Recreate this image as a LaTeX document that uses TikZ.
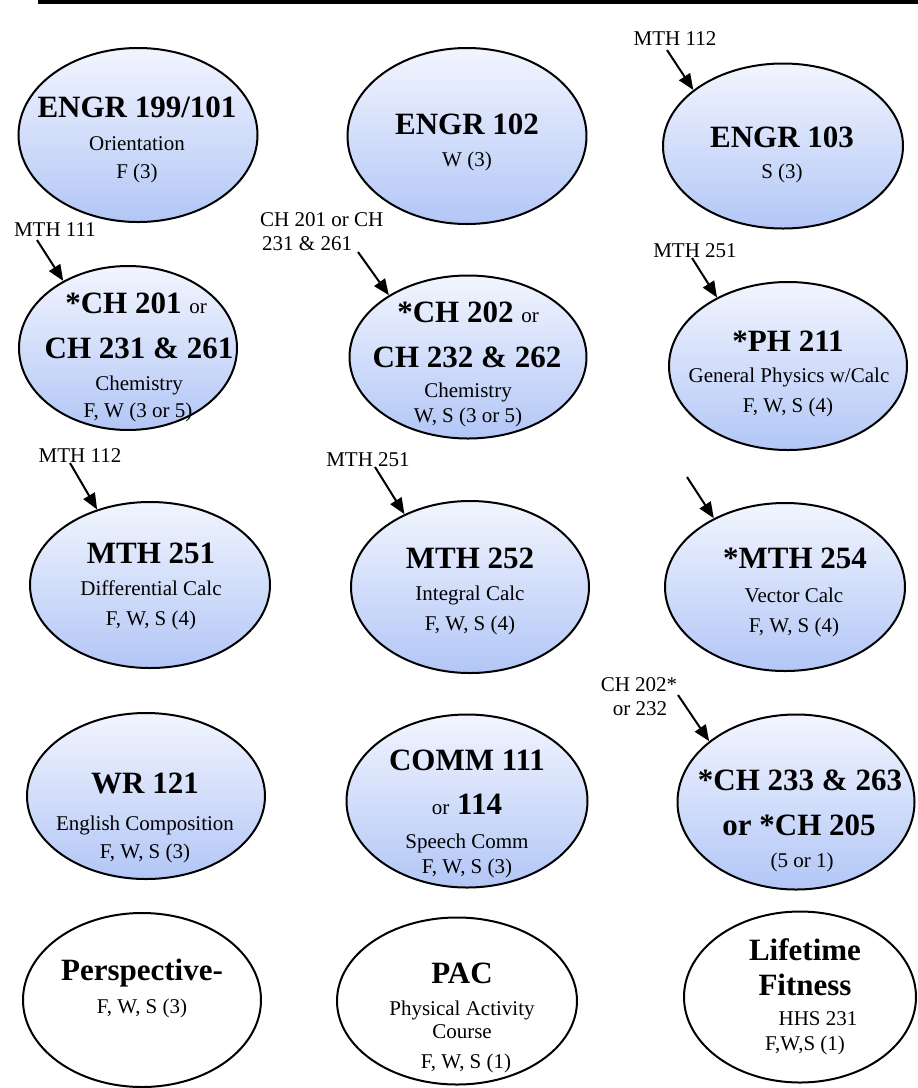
\documentclass[tikz,border=0pt]{standalone}
\usepackage{fontspec}
\setmainfont{Liberation Serif}
\usetikzlibrary{shapes.geometric,arrows.meta}
\definecolor{gtop}{HTML}{F2F5FE}
\definecolor{gbot}{HTML}{B2C6F6}
\tikzset{
 course/.style={ellipse, draw=black, line width=2pt, inner sep=0pt, top color=gtop, bottom color=gbot},
 plaincourse/.style={ellipse, draw=black, line width=2pt, inner sep=0pt, fill=white},
 prereq/.style={-{Triangle[length=16pt,width=13pt]}, line width=2pt, black},
 ttl/.style={anchor=base, inner sep=0pt, font=\fontsize{31}{31}\selectfont\bfseries},
 sub/.style={anchor=base, inner sep=0pt, font=\fontsize{21}{21}\selectfont},
 lbl/.style={anchor=base, inner sep=0pt, font=\fontsize{21}{21}\selectfont},
}
\newcommand{\smallor}{{\fontsize{21}{21}\selectfont\mdseries or}}
\begin{document}
\begin{tikzpicture}[x=1pt,y=-1pt]
\useasboundingbox (0,0) rectangle (918,1088);
\draw[line width=3.5pt] (38,1.75) -- (918,1.75);

% ellipses
\node[course, minimum width=239pt, minimum height=174pt] (e1) at (138,135) {};
\node[course, minimum width=239pt, minimum height=176pt] (e2) at (467,136) {};
\node[course, minimum width=240pt, minimum height=165pt] (e3) at (783,146) {};
\node[course, minimum width=218pt, minimum height=164pt] (c1) at (128,348) {};
\node[course, minimum width=237pt, minimum height=163pt] (c2) at (468,357) {};
\node[course, minimum width=238pt, minimum height=168pt] (c3) at (788,366) {};
\node[course, minimum width=240pt, minimum height=166pt] (m1) at (150,585) {};
\node[course, minimum width=238pt, minimum height=172pt] (m2) at (470,587) {};
\node[course, minimum width=240pt, minimum height=168pt] (m3) at (785,587) {};
\node[course, minimum width=238pt, minimum height=166pt] (w1) at (146,796) {};
\node[course, minimum width=241pt, minimum height=173pt] (w2) at (467,801) {};
\node[course, minimum width=237pt, minimum height=175pt] (w3) at (796,802) {};
\node[plaincourse, minimum width=238pt, minimum height=174pt] (p1) at (142,1000) {};
\node[plaincourse, minimum width=240pt, minimum height=167pt] (p2) at (457,1001) {};
\node[plaincourse, minimum width=232pt, minimum height=171pt] (p3) at (800,997) {};

% texts
\node[ttl] (e1t) at (137,117) {ENGR 199/101};
\node[sub] (e1a) at (137,150) {Orientation};
\node[sub] (e1b) at (137,178) {F (3)};
\node[ttl] (e2t) at (467,134) {ENGR 102};
\node[sub] (e2a) at (467,166) {W (3)};
\node[ttl] (e3t) at (782,147) {ENGR 103};
\node[sub] (e3a) at (782,178) {S (3)};

\node[ttl] (c1t) at (136,313) {*CH 201 \smallor};
\node[ttl] (c1u) at (139,358) {CH 231 \& 261};
\node[sub] (c1a) at (139,390) {Chemistry};
\node[sub] (c1b) at (138,417) {F, W (3 or 5)};
\node[ttl] (c2t) at (468,322) {*CH 202 \smallor};
\node[ttl] (c2u) at (467,367) {CH 232 \& 262};
\node[sub] (c2a) at (468,397) {Chemistry};
\node[sub] (c2b) at (468,422) {W, S (3 or 5)};
\node[ttl] (c3t) at (788,351) {*PH 211};
\node[sub] (c3a) at (789,382) {General Physics w/Calc};
\node[sub] (c3b) at (788,412) {F, W, S (4)};

\node[ttl] (m1t) at (151,563) {MTH 251};
\node[sub] (m1a) at (151,595) {Differential Calc};
\node[sub] (m1b) at (151,625) {F, W, S (4)};
\node[ttl] (m2t) at (470,568) {MTH 252};
\node[sub] (m2a) at (470,600) {Integral Calc};
\node[sub] (m2b) at (470,630) {F, W, S (4)};
\node[ttl] (m3t) at (795,568) {*MTH 254};
\node[sub] (m3a) at (794,602) {Vector Calc};
\node[sub] (m3b) at (794,632) {F, W, S (4)};

\node[ttl] (w1t) at (145,793) {WR 121};
\node[sub] (w1a) at (145,830) {English Composition};
\node[sub] (w1b) at (145,858) {F, W, S (3)};
\node[ttl] (w2t) at (467,770) {COMM 111};
\node[ttl] (w2u) at (467,814) {\smallor{} 114};
\node[sub] (w2a) at (467,848) {Speech Comm};
\node[sub] (w2b) at (467,873) {F, W, S (3)};
\node[ttl] (w3t) at (800,790) {*CH 233 \& 263};
\node[ttl] (w3u) at (799,835) {or *CH 205};
\node[sub] (w3a) at (802,867) {(5 or 1)};

\node[ttl] (p1t) at (142,980) {Perspective-};
\node[sub] (p1a) at (142,1013) {F, W, S (3)};
\node[ttl] (p2t) at (462,983) {PAC};
\node[sub] (p2a) at (462,1015) {Physical Activity};
\node[sub] (p2b) at (462,1038) {Course};
\node[sub] (p2c) at (466,1068) {F, W, S (1)};
\node[ttl] (p3t) at (805,960) {Lifetime};
\node[ttl] (p3u) at (805,995) {Fitness};
\node[sub] (p3a) at (818,1025) {HHS 231};
\node[sub] (p3b) at (805,1050) {F,W,S (1)};

% prerequisite labels
\node[lbl] (l1) at (675,45) {MTH 112};
\node[lbl] (l2) at (55,236) {MTH 111};
\node[lbl, anchor=base west] (l3a) at (260,226) {CH 201 or CH};
\node[lbl, anchor=base west] (l3b) at (262,250) {231 \& 261};
\node[lbl] (l4) at (695,257) {MTH 251};
\node[lbl] (l5) at (80,462) {MTH 112};
\node[lbl] (l6) at (368,466) {MTH 251};
\node[lbl] (l8a) at (639,691) {CH 202*};
\node[lbl] (l8b) at (640,715) {or 232};

% arrow starts
\coordinate (s1) at (667,50);
\coordinate (s2) at (37,240);
\coordinate (s3) at (358,252);
\coordinate (s4) at (692,258);
\coordinate (s5) at (70,463);
\coordinate (s6) at (375,467);
\coordinate (s7) at (687,477);
\coordinate (s8) at (678,695);

\draw[prereq] (s1) -- (e3.148);
\draw[prereq] (s2) -- (c1.134);
\draw[prereq] (s3) -- (c2.142);
\draw[prereq] (s4) -- (c3.136);
\draw[prereq] (s5) -- (m1.125);
\draw[prereq] (s6) -- (m2.132);
\draw[prereq] (s7) -- (m3.136);
\draw[prereq] (s8) -- (w3.145);
\end{tikzpicture}
\end{document}
